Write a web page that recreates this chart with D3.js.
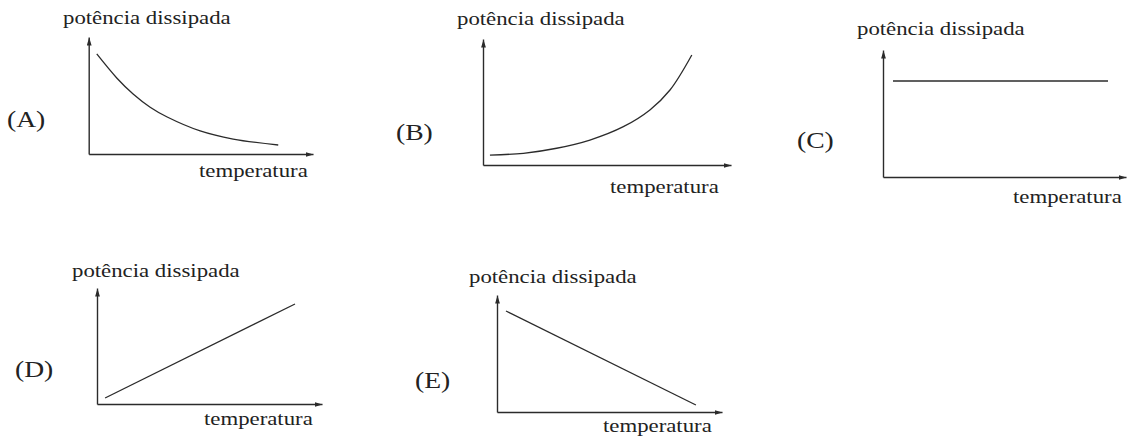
<!DOCTYPE html>
<html>
<head>
  <meta charset="UTF-8">
  <title>potência dissipada x temperatura</title>
  <script src="https://d3js.org/d3.v7.min.js"></script>
  <style>
    body { margin: 0; background: #fff; }
    text { font-family: "Liberation Serif", "Times New Roman", serif; fill: #222; }
  </style>
</head>
<body>
  <script>
    // text
    var labels = ["(A)", "(B)", "(C)", "(D)", "(E)"];
    var yTitle = "potência dissipada";
    var xTitle = "temperatura";

    // curves, [temperatura, potência] on a 0..10 scale
    var curveA = [[0.36, 8.55], [1.25, 6.5], [1.98, 5.13], [2.74, 4.0], [3.5, 3.16], [4.97, 1.97], [6.44, 1.28], [8.45, 0.77]];
    var curveB = [[0.28, 0.79], [1.63, 0.93], [2.97, 1.33], [4.31, 1.98], [5.66, 3.04], [6.73, 4.37], [7.54, 5.95], [8.42, 8.73]];
    var curveC = [[0.41, 7.56], [9.26, 7.56]];
    var curveD = [[0.36, 0.52], [8.8, 8.62]];
    var curveE = [[0.4, 8.63], [8.84, 0.6]];
    var curves = [curveA, curveB, curveC, curveD, curveE];

    // where each little graph sits on the page
    var panels = [
      { left: 88.7, bottom: 154, right: 313, top: 37, smooth: true, title: [63, 24], xlab: [199, 177], tag: [7, 127] },
      { left: 483, bottom: 165, right: 731, top: 39, smooth: true, title: [457, 25], xlab: [610, 193], tag: [396, 140] },
      { left: 883, bottom: 177, right: 1126, top: 50, smooth: false, title: [857, 35], xlab: [1013, 203], tag: [797, 148] },
      { left: 97, bottom: 404, right: 322, top: 288, smooth: false, title: [72, 277], xlab: [204, 425], tag: [15, 377] },
      { left: 497, bottom: 412, right: 722, top: 295, smooth: false, title: [469, 283], xlab: [603, 432], tag: [415, 388] }
    ];

    var ink = "#2b2b2b";

    var svg = d3.select("body").append("svg")
      .attr("width", 1127)
      .attr("height", 437);

    svg.append("defs").append("marker")
      .attr("id", "arrow")
      .attr("viewBox", "0 0 10 6")
      .attr("refX", 10)
      .attr("refY", 3)
      .attr("markerWidth", 8)
      .attr("markerHeight", 5)
      .attr("markerUnits", "userSpaceOnUse")
      .attr("orient", "auto")
      .append("path")
      .attr("d", "M0,0L10,3L0,6Z")
      .attr("fill", ink);

    panels.forEach(function (p, i) {
      var x = d3.scaleLinear().domain([0, 10]).range([p.left, p.right]);
      var y = d3.scaleLinear().domain([0, 10]).range([p.bottom, p.top]);
      var g = svg.append("g");

      var xAxis = g.append("g")
        .attr("transform", "translate(0," + p.bottom + ")")
        .call(d3.axisBottom(x).ticks(0).tickSizeOuter(0));
      var yAxis = g.append("g")
        .attr("transform", "translate(" + p.left + ",0)")
        .call(d3.axisLeft(y).ticks(0).tickSizeOuter(0));

      [xAxis, yAxis].forEach(function (a) {
        a.select(".domain")
          .attr("stroke", ink)
          .attr("stroke-width", 1.4)
          .attr("marker-end", "url(#arrow)");
      });

      var line = d3.line()
        .x(function (d) { return x(d[0]); })
        .y(function (d) { return y(d[1]); })
        .curve(p.smooth ? d3.curveCatmullRom : d3.curveLinear);

      g.append("path")
        .datum(curves[i])
        .attr("d", line)
        .attr("fill", "none")
        .attr("stroke", ink)
        .attr("stroke-width", 1.3);

      g.append("text")
        .attr("transform", "translate(" + p.title[0] + "," + p.title[1] + ") scale(1.2,1)")
        .style("font-size", "19px")
        .text(yTitle);

      g.append("text")
        .attr("transform", "translate(" + p.xlab[0] + "," + p.xlab[1] + ") scale(1.2,1)")
        .style("font-size", "19px")
        .text(xTitle);

      g.append("text")
        .attr("transform", "translate(" + p.tag[0] + "," + p.tag[1] + ") scale(1.15,1)")
        .style("font-size", "24px")
        .text(labels[i]);
    });
  </script>
</body>
</html>
